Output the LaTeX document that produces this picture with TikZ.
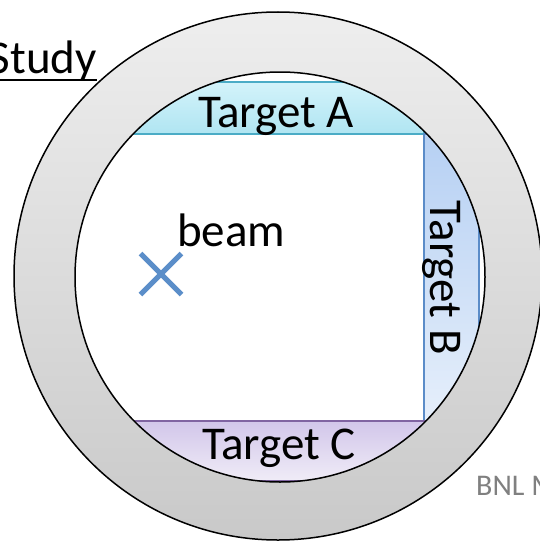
\documentclass[tikz,border=0pt]{standalone}
\usepackage{fontspec}
\setmainfont{Carlito}
\usetikzlibrary{shapes.misc}
\definecolor{ringtop}{HTML}{EEEEEE}
\definecolor{ringbot}{HTML}{C9C9C9}
\definecolor{lineA}{HTML}{4BACC6}
\definecolor{topA}{HTML}{D3F3FA}
\definecolor{botA}{HTML}{B0E5F2}
\definecolor{lineB}{HTML}{5B8CC8}
\definecolor{darkB}{HTML}{B6D0F3}
\definecolor{lightB}{HTML}{E6EFFB}
\definecolor{lineC}{HTML}{8064A2}
\definecolor{topC}{HTML}{D2C6EA}
\definecolor{botC}{HTML}{F0ECF7}
\definecolor{beamblue}{HTML}{5B8EC9}
\definecolor{bnlgray}{HTML}{808080}
\begin{document}
\begin{tikzpicture}[x=1pt, y=-1pt, font=\fontsize{47}{56}\selectfont, target/.style={rectangle, draw=#1, line width=1.5pt, inner sep=0pt, align=center}, plain/.style={inner sep=0pt, anchor=#1}, plain/.default={base west}]

\useasboundingbox (0,0) rectangle (539,543);

% ring
\shade[top color=ringtop, bottom color=ringbot] (278,276) circle [radius=264pt];
\draw[line width=1.5pt] (278,276) circle [radius=264pt];
\fill[white] (280,277) circle [radius=205pt];

% targets, cut by the inner circle
\begin{scope}
\clip (280,277) circle [radius=205pt];
\node [target=lineA, top color=topA, bottom color=botA, minimum width=296pt, minimum height=52pt, text height=45pt, text depth=7pt] (TA) at (276,108) {Target A};
\node [target=lineB, rotate=-90, top color=darkB, bottom color=lightB, minimum width=287pt, minimum height=55pt, text height=49pt, text depth=6pt] (TB) at (451.5,277.5) {Target B};
\node [target=lineC, top color=topC, bottom color=botC, minimum width=302pt, minimum height=60pt, text height=38pt, text depth=22pt] (TC) at (279,451) {Target C};
\end{scope}
\draw[line width=1.5pt] (280,277) circle [radius=205pt];

% beam
\node [cross out, draw=beamblue, line width=5pt, minimum size=36pt, inner sep=0pt] (X) at (161,274) {};
\node [plain] (beam) at (177,246) {beam};

\node [plain={base east}] (study) at (97,74) {Study};
\draw[line width=2pt] ([yshift=-6pt]study.base west) -- ([yshift=-6pt]study.base east);
\node [plain, text=bnlgray, font=\fontsize{30}{36}\selectfont] (bnl) at (476,495) {BNL M};

\end{tikzpicture}
\end{document}
